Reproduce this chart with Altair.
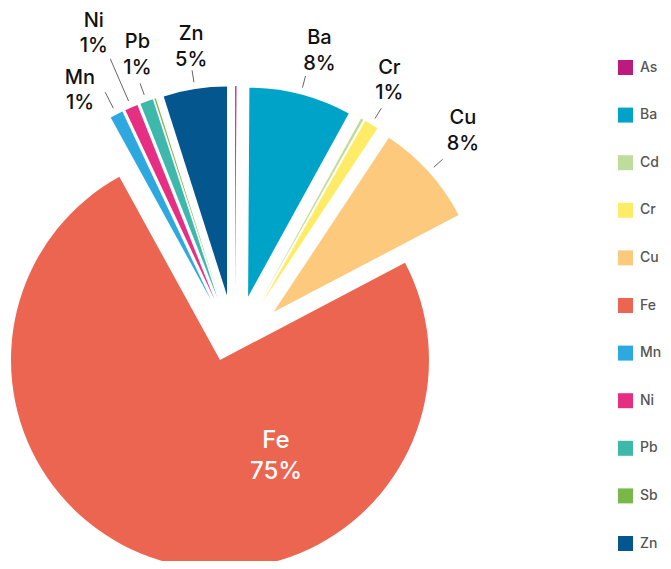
import math
import altair as alt
import pandas as pd

# ---- data ----
elements = ["As", "Ba", "Cd", "Cr", "Cu", "Fe", "Mn", "Ni", "Pb", "Sb", "Zn"]
shares = [0.1, 7.9, 0.2, 1.1, 8.0, 74.7, 1.0, 1.0, 1.0, 0.1, 4.9]
colors = ["#BD1A7E", "#00A3C8", "#BEDC9B", "#FFEC66", "#FDC97D", "#EC6550",
          "#2EA9DF", "#E62F82", "#3EB8AA", "#79B748", "#04568F"]

# ---- layout / style constants (pixels inside the view) ----
R = 209
MAIN_CX, MAIN_CY = 212, 352       # centre of the large slice
GROUP_CX, GROUP_CY = 227, 339     # centre the small slices are pulled from
PULL = 52
LEAD_IN, LEAD_OUT, LABEL_R = 7, 19, 47
# label de-overlap nudges (radial px / degrees)
label_extra = {"Ni": 36, "Mn": -8, "Cu": 6, "Zn": -5}
label_turn = {"Mn": -5, "Pb": 1.6, "Ni": -1, "Ba": 1.6, "Cr": -1.7, "Cu": -1.6, "Zn": 0.6}
lead_extra = {"Ni": 34, "Mn": 6}
IN_R, IN_ANG = 112, 150
OUT_LH, IN_LH = 25.5, 31
FONT = "Inter"

total = sum(shares)
df = pd.DataFrame({"element": elements, "share": shares,
                   "order": list(range(len(elements)))})


def lookup(d, default="0"):
    expr = default
    for k, v in d.items():
        expr = f"(datum.element === '{k}' ? {v} : {expr})"
    return expr


base = (
    alt.Chart(df)
    .transform_window(cum="sum(share)", sort=[alt.SortField("order")], frame=[None, 0])
    .transform_calculate(start="datum.cum - datum.share")
    .transform_calculate(end="datum.cum")
    .transform_calculate(mid=f"2*PI*(datum.cum - datum.share/2)/{total}")
    .transform_calculate(main=f"datum.share/{total} > 0.5")
    .transform_calculate(cx=f"datum.main ? {MAIN_CX} : {GROUP_CX} + {PULL}*sin(datum.mid)")
    .transform_calculate(cy=f"datum.main ? {MAIN_CY} : {GROUP_CY} - {PULL}*cos(datum.mid)")
    .transform_calculate(la=f"datum.mid + {lookup(label_turn)}*PI/180")
    .transform_calculate(lr=f"{R + LABEL_R} + {lookup(label_extra)}")
    .transform_calculate(
        lx=f"datum.main ? datum.cx + {IN_R}*sin({IN_ANG}*PI/180) : datum.cx + datum.lr*sin(datum.la)")
    .transform_calculate(
        ly=f"datum.main ? datum.cy - {IN_R}*cos({IN_ANG}*PI/180) - {IN_LH / 2} "
           f": datum.cy - datum.lr*cos(datum.la) - {OUT_LH / 2}")
    .transform_calculate(x1=f"datum.cx + {R + LEAD_IN}*sin(datum.mid)")
    .transform_calculate(y1=f"datum.cy - {R + LEAD_IN}*cos(datum.mid)")
    .transform_calculate(x2=f"datum.cx + ({R + LEAD_OUT} + {lookup(lead_extra)})*sin(datum.mid)")
    .transform_calculate(y2=f"datum.cy - ({R + LEAD_OUT} + {lookup(lead_extra)})*cos(datum.mid)")
    .transform_calculate(txt="datum.element + '\\n' + round(datum.share) + '%'")
)

arcs = base.mark_arc(outerRadius=R, innerRadius=0).encode(
    theta=alt.Theta("start:Q", stack=None,
                    scale=alt.Scale(domain=[0, total], range=[0, 2 * math.pi])),
    theta2="end:Q",
    x=alt.X("cx:Q", scale=None, axis=None, stack=None),
    y=alt.Y("cy:Q", scale=None, axis=None, stack=None),
    color=alt.Color(
        "element:N",
        scale=alt.Scale(domain=elements, range=colors),
        sort=elements,
        legend=alt.Legend(
            title=None, orient="none", legendX=610, legendY=52, direction="vertical",
            symbolType="square", symbolSize=225, symbolStrokeWidth=0, symbolOpacity=1,
            labelFontSize=14, labelColor="#555555", labelFont=FONT, labelFontWeight=500,
            labelOffset=7, rowPadding=32.6, padding=0,
        ),
    ),
    order=alt.Order("order:Q"),
)

outside = base.transform_filter("datum.share >= 0.5 && !datum.main")

leaders = outside.mark_rule(color="#666666", strokeWidth=1).encode(
    x=alt.X("x1:Q", scale=None, axis=None),
    y=alt.Y("y1:Q", scale=None, axis=None),
    x2="x2:Q",
    y2="y2:Q",
)

labels = outside.mark_text(
    font=FONT, fontSize=20, fontWeight=500, color="#111111",
    lineBreak="\n", lineHeight=OUT_LH, align="center", baseline="middle",
).encode(
    x=alt.X("lx:Q", scale=None, axis=None),
    y=alt.Y("ly:Q", scale=None, axis=None),
    text="txt:N",
)

inner = base.transform_filter("datum.main").mark_text(
    font=FONT, fontSize=24, fontWeight=500, color="#ffffff",
    lineBreak="\n", lineHeight=IN_LH, align="center", baseline="middle",
).encode(
    x=alt.X("lx:Q", scale=None, axis=None),
    y=alt.Y("ly:Q", scale=None, axis=None),
    text="txt:N",
)

chart = (
    alt.layer(arcs, leaders, labels, inner)
    .properties(width=655, height=553, padding=0,
                autosize=alt.AutoSizeParams(type="none"))
    .configure_view(stroke=None)
)

chart.save("out.html", embed_options={"renderer": "svg", "actions": False})
